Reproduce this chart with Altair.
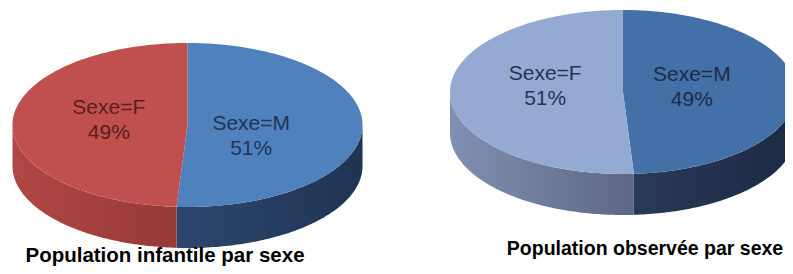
import numpy as np
import pandas as pd
import altair as alt

# ---- data ----
categories = ["Sexe=M", "Sexe=F"]
infantile = [51, 49]
observee = [49, 51]
titles = ["Population infantile par sexe", "Population observée par sexe"]

# ---- layout / style (pixel-like coordinate system of the page) ----
pies = [
    dict(values=infantile, cx=187.5, cy=125, rx=175, ry=82, depth=41,
         top=["#4F81BD", "#C0504D"],
         side=[("#2C4770", "#1F3452"), ("#B04844", "#963937")],
         label=["#1F3556", "#5A1E1C"],
         label_shift=[(-15, 13), (0, 0)],
         title=titles[0], tx=165, ty=261.5, tsize=20.5),
    dict(values=observee, cx=623, cy=92, rx=173, ry=82, depth=41,
         top=["#4470A8", "#94AAD3"],
         side=[("#29395A", "#1C2A42"), ("#8090B3", "#5E6784")],
         label=["#1C2C48", "#233656"],
         label_shift=[(-9, 0), (0, -4)],
         title=titles[1], tx=645, ty=255, tsize=19.5),
]

LINE_H = 25


def arc(p, a0, a1, dy=0.0):
    n = max(2, int(abs(a1 - a0)) + 1)
    t = np.radians(np.linspace(a0, a1, n))
    return list(zip(p["cx"] + p["rx"] * np.sin(t), p["cy"] - p["ry"] * np.cos(t) + dy))


rows = []
fills = []
labels = []
pid = 0
for p in pies:
    total = sum(p["values"])
    start = 0.0
    for k, v in enumerate(p["values"]):
        end = start + 360.0 * v / total
        # side wall (front half only, 90..270 deg)
        s, e = max(start, 90.0), min(end, 270.0)
        if e > s:
            pts = arc(p, s, e) + arc(p, e, s, p["depth"])
            for i, (x, y) in enumerate(pts):
                rows.append(dict(poly=pid, i=i, x=x, y=y))
            c0, c1 = p["side"][k]
            fills.append((pid, alt.LinearGradient(
                gradient="linear",
                stops=[alt.GradientStop(color=c0, offset=0), alt.GradientStop(color=c1, offset=1)],
                x1=0, x2=1, y1=0, y2=0)))
            pid += 1
        # top face wedge
        pts = [(p["cx"], p["cy"])] + arc(p, start, end) + [(p["cx"], p["cy"])]
        for i, (x, y) in enumerate(pts):
            rows.append(dict(poly=pid, i=i, x=x, y=y))
        fills.append((pid, p["top"][k]))
        pid += 1
        # label at slice middle (first line positioned so the 2-line block is centred)
        mid = np.radians((start + end) / 2)
        dx, dy = p["label_shift"][k]
        labels.append(dict(x=p["cx"] + 0.45 * p["rx"] * np.sin(mid) + dx,
                           y=p["cy"] - 0.45 * p["ry"] * np.cos(mid) - 3 - LINE_H / 2 + dy,
                           text=f"{categories[k]}\n{round(100 * v / total)}%",
                           color=p["label"][k]))
        start = end

poly_df = pd.DataFrame(rows)
label_df = pd.DataFrame(labels)
title_df = pd.DataFrame([dict(x=p["tx"], y=p["ty"], text=p["title"], size=p["tsize"]) for p in pies])

xs = alt.Scale(domain=[8, 785], nice=False, zero=False)
ys = alt.Scale(domain=[8, 266], nice=False, zero=False, reverse=True)
X = alt.X("x:Q", scale=xs, axis=None)
Y = alt.Y("y:Q", scale=ys, axis=None)

layers = []
base = alt.Chart(poly_df)
for pid_, fill in fills:
    layers.append(
        base.transform_filter(alt.datum.poly == pid_)
        .mark_line(fill=fill, strokeWidth=0, clip=True)
        .encode(x=X, y=Y, order=alt.Order("i:Q"))
    )

text_layer = alt.Chart(label_df).mark_text(
    font="Liberation Sans", fontSize=21, lineBreak="\n", lineHeight=LINE_H,
    align="center", baseline="middle"
).encode(x=X, y=Y, text="text:N", color=alt.Color("color:N", scale=None))

title_layer = alt.Chart(title_df).mark_text(
    font="Liberation Sans", fontWeight="bold", color="#000000",
    align="center", baseline="alphabetic"
).encode(x=X, y=Y, text="text:N", size=alt.Size("size:Q", scale=None, legend=None))

chart = alt.layer(*layers, text_layer, title_layer).properties(
    width=777, height=258, padding=0,
    autosize=alt.AutoSizeParams(type="none"),
).configure_view(strokeWidth=0)

chart.save("out.html", embed_options={"renderer": "svg", "actions": False})
